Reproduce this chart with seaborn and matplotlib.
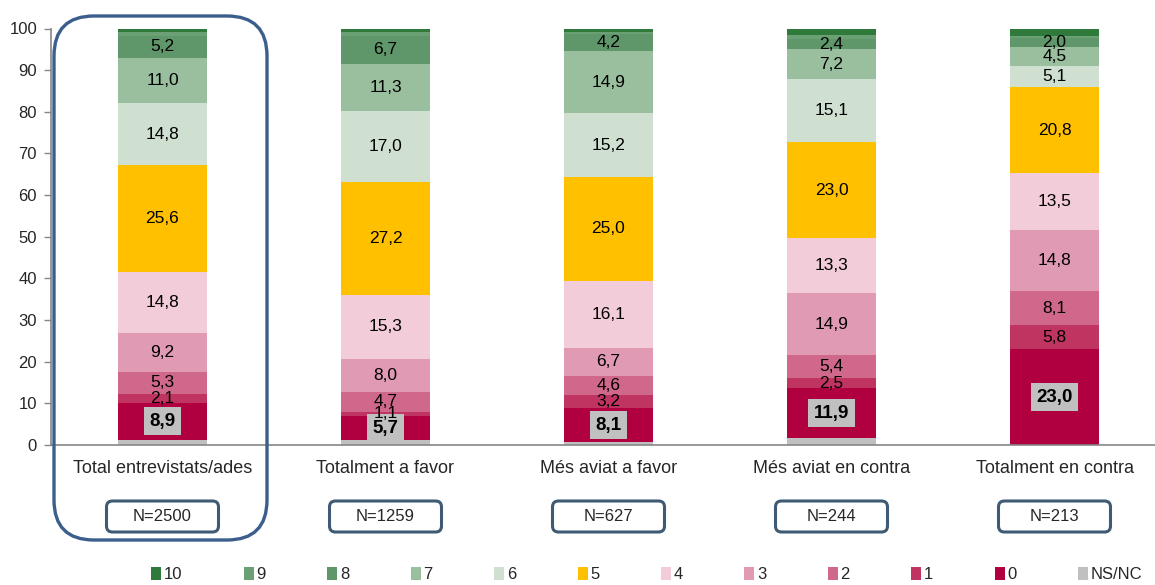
import numpy as np
import pandas as pd
import matplotlib
matplotlib.use("Agg")
import matplotlib.pyplot as plt
from matplotlib.patches import FancyBboxPatch, Patch
import seaborn as sns

# categories and stacked levels (bottom -> top)
groups = ["Total entrevistats/ades", "Totalment a favor", "Més aviat a favor",
          "Més aviat en contra", "Totalment en contra"]
n_values = ["N=2500", "N=1259", "N=627", "N=244", "N=213"]
levels = ["NS/NC", "0", "1", "2", "3", "4", "5", "6", "7", "8", "9", "10"]

# percentages per group, in the order of `levels`
total_vals = [1.3, 8.9, 2.1, 5.3, 9.2, 14.8, 25.6, 14.8, 11.0, 5.2, 0.9, 0.9]
favor_vals = [1.2, 5.7, 1.1, 4.7, 8.0, 15.3, 27.2, 17.0, 11.3, 6.7, 0.9, 0.9]
mes_favor_vals = [0.7, 8.1, 3.2, 4.6, 6.7, 16.1, 25.0, 15.2, 14.9, 4.2, 0.5, 0.8]
mes_contra_vals = [1.7, 11.9, 2.5, 5.4, 14.9, 13.3, 23.0, 15.1, 7.2, 2.4, 1.1, 1.5]
contra_vals = [0.0, 23.0, 5.8, 8.1, 14.8, 13.5, 20.8, 5.1, 4.5, 2.0, 0.5, 1.9]

colors = {
    "10": "#2F7A3B", "9": "#6AA074", "8": "#5F976A", "7": "#9ABF9E",
    "6": "#CFE0D1", "5": "#FFC000", "4": "#F2CCD9", "3": "#E09AB3",
    "2": "#D0688B", "1": "#C03462", "0": "#B0003F", "NS/NC": "#C0C0C0",
}

data = np.array([total_vals, favor_vals, mes_favor_vals, mes_contra_vals, contra_vals])
tops = np.cumsum(data, axis=1)
bottoms = tops - data

sns.set_theme(style="white")
plt.rcParams["font.family"] = ["Liberation Sans", "DejaVu Sans"]

fig = plt.figure(figsize=(11.55, 5.85), dpi=100)
ax = fig.add_axes([51 / 1155, 140 / 585, 1115 / 1155, 416.5 / 585])

# stacked bars: draw cumulative heights from the top level down
for j in range(len(levels) - 1, -1, -1):
    df = pd.DataFrame({"group": groups, "top": tops[:, j]})
    sns.barplot(data=df, x="group", y="top", order=groups, color=colors[levels[j]],
                width=0.4, saturation=1, errorbar=None, ax=ax, linewidth=0)

# value labels
for i in range(len(groups)):
    for j, lev in enumerate(levels):
        if lev in ("NS/NC", "9", "10"):
            continue
        v = data[i, j]
        y = bottoms[i, j] + v / 2
        txt = f"{v:.1f}".replace(".", ",")
        if lev == "0":
            ax.text(i, y, txt, ha="center", va="center", fontsize=13.5, fontweight="bold",
                    color="black",
                    bbox=dict(boxstyle="square,pad=0.3", fc="#C0C0C0", ec="none"))
        else:
            ax.text(i, y, txt, ha="center", va="center", fontsize=12.5, color="black")

ax.set_xlim(-0.5, len(groups) - 0.5)
ax.set_ylim(0, 100)
ax.set_yticks(range(0, 101, 10))
ax.set_xlabel("")
ax.set_ylabel("")
ax.set_xticks(np.arange(len(groups)))
ax.set_xticklabels(groups, fontsize=13)
ax.set_xticks(np.arange(len(groups) - 1) + 0.5, minor=True)
ax.tick_params(axis="x", which="major", length=0, pad=11)
ax.tick_params(axis="x", which="minor", length=6, width=1, color="#868686", direction="out")
ax.tick_params(axis="y", length=5, width=1, color="#868686", direction="out", pad=5, labelsize=12)
ax.tick_params(axis="both", bottom=True, left=True)
for s in ["top", "right"]:
    ax.spines[s].set_visible(False)
for s in ["left", "bottom"]:
    ax.spines[s].set_color("#868686")
    ax.spines[s].set_linewidth(1.2)
ax.grid(False)

# N boxes under each bar
fig.canvas.draw()
for i, n in enumerate(n_values):
    xc = ax.transData.transform((i, 0))[0] / fig.dpi
    w, h = 1.12, 0.31
    box = FancyBboxPatch((xc - w / 2, 0.585 - h / 2 + 0.1), w, h,
                         boxstyle="round,pad=0,rounding_size=0.06",
                         transform=fig.dpi_scale_trans, fc="white", ec="#3E5B73",
                         lw=2.2, clip_on=False)
    fig.add_artist(box)
    fig.text(xc / 11.55, (0.585 + 0.1) / 5.85, n, ha="center", va="center", fontsize=12)

# frame around the total column
frame = FancyBboxPatch((0.54, 0.45), 2.13, 5.24, boxstyle="round,pad=0,rounding_size=0.4",
                       transform=fig.dpi_scale_trans, fc="none", ec="#3B5E8C", lw=2.4,
                       clip_on=False)
fig.add_artist(frame)

# legend
legend_order = levels[::-1][:-1] + ["NS/NC"]
handles = [Patch(facecolor=colors[l], edgecolor="none") for l in legend_order]
fig.legend(handles, legend_order, loc="center", bbox_to_anchor=(0.56, 0.018), ncol=12,
           frameon=False, fontsize=12, handlelength=0.6, handleheight=0.9,
           handletextpad=0.15, columnspacing=3.7)

fig.savefig("out.png", dpi=100)
